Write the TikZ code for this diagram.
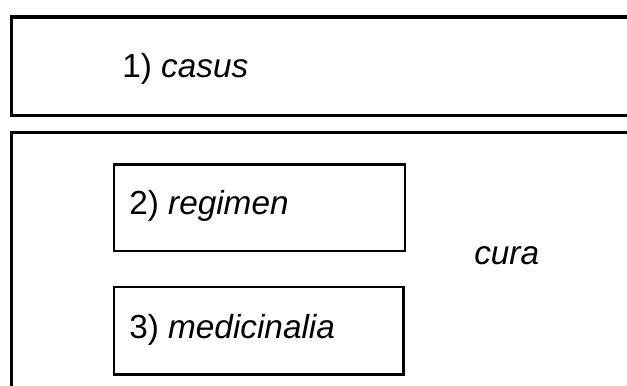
\documentclass[tikz,border=0pt]{standalone}
\usepackage{fontspec}
\setmainfont{Liberation Sans}
\begin{document}
\begin{tikzpicture}[x=0.75pt,y=-0.75pt,
  frame/.style={draw=black,line width=2.4pt,rectangle,inner sep=0pt,anchor=north west},
  inbox/.style={draw=black,line width=2.1pt,rectangle,inner sep=0pt,anchor=north west},
  lbl/.style={anchor=base west,inner sep=0pt,font=\fontsize{25}{30}\selectfont}]
\useasboundingbox (0,0) rectangle (627,385);
\clip (0,0) rectangle (627,385);
\node[frame,minimum width=650*0.75pt,minimum height=98.5*0.75pt] (top) at (9.5,15.5) {};
\node[frame,minimum width=650*0.75pt,minimum height=280*0.75pt] (bottom) at (9.5,130.5) {};
\node[inbox,minimum width=291*0.75pt,minimum height=86.5*0.75pt] (reg) at (112.5,163) {};
\node[inbox,minimum width=289.5*0.75pt,minimum height=87.5*0.75pt] (med) at (112.5,285.5) {};
\node[lbl] (casus) at (122,77) {1) \textit{casus}};
\node[lbl] (regimen) at (129,214) {2) \textit{regimen}};
\node[lbl] (medicinalia) at (129,338) {3) \textit{medicinalia}};
\node[lbl] (cura) at (474,264) {\textit{cura}};
\end{tikzpicture}
\end{document}
